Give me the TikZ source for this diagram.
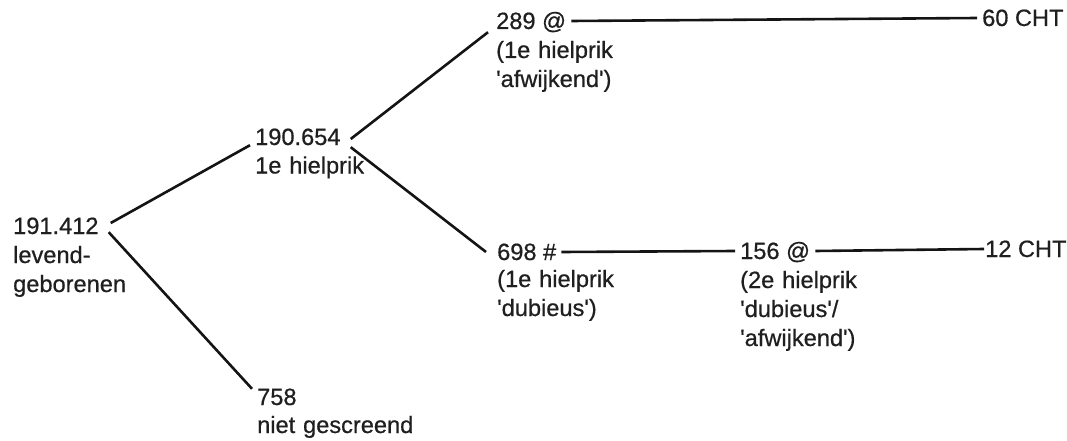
\documentclass[tikz,border=0pt]{standalone}
\usepackage{fontspec}
\setmainfont{Liberation Sans}[Ligatures=TeXOff, FakeBold=0.6]
\begin{document}
\begin{tikzpicture}[x=1pt,y=-1pt,
  every node/.style={font=\fontsize{23.6}{29}\selectfont, text=black!88},
  num/.style={anchor=base west, inner xsep=5pt, inner ysep=0pt,
              text height=16pt, text depth=0pt},
  desc/.style={anchor=base west, inner xsep=5pt, inner ysep=0pt,
               align=left, text width=200pt},
  link/.style={line width=2.6pt, draw=black!92}]
\useasboundingbox (0,0) rectangle (1067,441);

% counts
\node[num] (n191) at (8,234) {191.412};
\node[num] (n190) at (250,145) {190.654};
\node[num] (n289) at (491,29) {289 @};
\node[num] (n698) at (492,260) {698 \#};
\node[num] (n156) at (735,259) {156 @};
\node[num] (n60)  at (977,26) {60 CHT};
\node[num] (n12)  at (980,257) {12 CHT};
\node[num] (n758) at (252,405) {758};

% descriptions under the counts
\node[desc] (d191) at ([yshift=-29pt]n191.base west) {levend-\\geborenen};
\node[desc] (d190) at ([yshift=-28.5pt]n190.base west) {1e hielprik};
\node[desc] (d289) at ([yshift=-29pt]n289.base west) {(1e hielprik\\'afwijkend')};
\node[desc] (d698) at ([yshift=-27pt]n698.base west) {(1e hielprik\\'dubieus')};
\node[desc] (d156) at ([yshift=-29pt]n156.base west) {(2e hielprik\\'dubieus'/\\'afwijkend')};
\node[desc] (d758) at ([yshift=-28pt]n758.base west) {niet gescreend};

% branches
\draw[link] ([xshift=7pt,yshift=3pt]n191.east) -- (n190.south west);
\draw[link] ([xshift=5pt,yshift=2pt]n191.south east) -- (n758.north west);
\draw[link] ([xshift=5pt,yshift=-2pt]n190.east) -- ([xshift=-3pt,yshift=-3pt]n289.south west);
\draw[link] ([xshift=5pt,yshift=-2pt]n190.south east) -- ([xshift=-6pt]n698.west);
\draw[link] (n289.east) -- (n60.west);
\draw[link] (n698.east) -- (n156.west);
\draw[link] (n156.east) -- ([xshift=4pt]n12.west);
\end{tikzpicture}
\end{document}
